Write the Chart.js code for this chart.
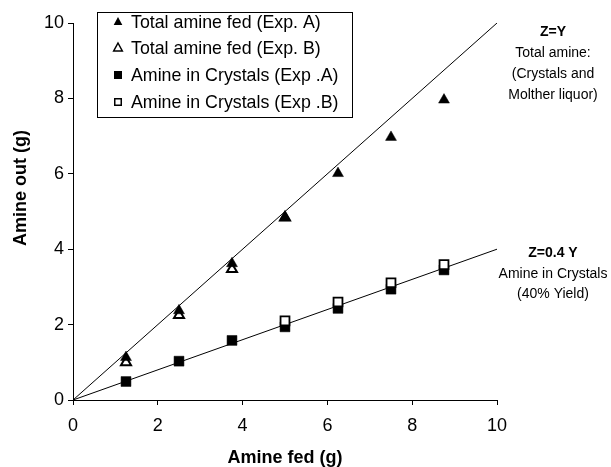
<!DOCTYPE html>
<html>
<head>
<meta charset="utf-8">
<script src="https://cdn.jsdelivr.net/npm/chart.js@4/dist/chart.umd.min.js"></script>
<style>
  html, body { margin: 0; padding: 0; background: #fff; }
  #wrap { width: 611px; height: 467px; position: relative; }
</style>
</head>
<body>
<div id="wrap"><canvas id="c" width="611" height="467"></canvas></div>
<script>
// ---- data ----
const xFed       = [1.25, 2.5, 3.75, 5, 6.25, 7.5, 8.75];
const totalA     = [1.13, 2.37, 3.62, 4.84, 6.01, 6.97, 7.96];
const totalB     = [1.00, 2.25, 3.47, 4.84, null, null, null];
const crystalsA  = [0.49, 1.03, 1.58, 1.94, 2.43, 2.94, 3.45];
const crystalsB  = [null, null, null, 2.10, 2.60, 3.11, 3.59];
const lineX        = [0, 10];
const lineTotal    = [0, 10];   // Z = Y
const lineCrystals = [0, 4];    // Z = 0.4 Y
const xTicks = [0, 2, 4, 6, 8, 10];
const yTicks = [0, 2, 4, 6, 8, 10];
const legendLabels = [
  'Total amine fed (Exp. A)',
  'Total amine fed (Exp. B)',
  'Amine in Crystals (Exp .A)',
  'Amine in Crystals (Exp .B)'
];
const noteTotal    = ['Z=Y', 'Total amine:', '(Crystals and', 'Molther liquor)'];
const noteCrystals = ['Z=0.4 Y', 'Amine in Crystals', '(40% Yield)'];
const xTitle = 'Amine fed (g)';
const yTitle = 'Amine out (g)';

const FONT = '"Liberation Sans", Arial, sans-serif';
const pts = (xs, ys) => xs.map((x, i) => ({x: x, y: ys[i]})).filter(p => p.y !== null);

const overlay = {
  id: 'overlay',
  afterDraw(chart) {
    const ctx = chart.ctx;
    ctx.save();
    // axis titles
    ctx.fillStyle = '#000';
    ctx.font = 'bold 18px ' + FONT;
    ctx.textAlign = 'center';
    ctx.textBaseline = 'middle';
    ctx.fillText(xTitle, (chart.chartArea.left + chart.chartArea.right) / 2, 458);
    ctx.save();
    ctx.translate(21, 188);
    ctx.rotate(-Math.PI / 2);
    ctx.fillText(yTitle, 0, 0);
    ctx.restore();

    // right annotations
    const cx = 553;
    const ty = [32, 53, 74, 95];
    noteTotal.forEach((t, i) => {
      ctx.font = (i === 0 ? 'bold ' : '') + '14px ' + FONT;
      ctx.fillText(t, cx, ty[i]);
    });
    const cy = [253, 274, 294];
    noteCrystals.forEach((t, i) => {
      ctx.font = (i === 0 ? 'bold ' : '') + '14px ' + FONT;
      ctx.fillText(t, cx, cy[i]);
    });

    // legend box
    ctx.fillStyle = '#fff';
    ctx.fillRect(97, 12, 255, 105);
    ctx.strokeStyle = '#000';
    ctx.lineWidth = 1;
    ctx.strokeRect(97.5, 12.5, 255, 105);
    const rows = [22, 48, 75, 102];
    ctx.font = '17.8px ' + FONT;
    ctx.textAlign = 'left';
    ctx.fillStyle = '#000';
    rows.forEach((y, i) => {
      const mx = 118;
      ctx.beginPath();
      if (i < 2) {
        const r = 5;
        ctx.moveTo(mx, y - r);
        ctx.lineTo(mx + r * 0.866, y + r * 0.5 + 0.5);
        ctx.lineTo(mx - r * 0.866, y + r * 0.5 + 0.5);
        ctx.closePath();
        if (i === 0) { ctx.fillStyle = '#000'; ctx.fill(); }
        else { ctx.fillStyle = '#fff'; ctx.fill(); ctx.lineWidth = 1.5; ctx.strokeStyle = '#000'; ctx.stroke(); }
      } else {
        const s = 8;
        if (i === 2) { ctx.fillStyle = '#000'; ctx.fillRect(mx - s/2, y - s/2, s, s); }
        else { ctx.fillStyle = '#fff'; ctx.fillRect(mx - s/2, y - s/2, s, s); ctx.lineWidth = 1.5; ctx.strokeStyle = '#000'; ctx.strokeRect(mx - s/2 + 0.75, y - s/2 + 0.75, s - 1.5, s - 1.5); }
      }
      ctx.fillStyle = '#000';
      ctx.fillText(legendLabels[i], 131, y + 1);
    });
    ctx.restore();
  }
};

new Chart(document.getElementById('c'), {
  type: 'scatter',
  data: {
    datasets: [
      { label: 'Z=Y', type: 'line', data: pts(lineX, lineTotal), borderColor: '#000', borderWidth: 1, pointRadius: 0, fill: false, order: 10 },
      { label: 'Z=0.4Y', type: 'line', data: pts(lineX, lineCrystals), borderColor: '#000', borderWidth: 1, pointRadius: 0, fill: false, order: 10 },
      { label: legendLabels[1], data: pts(xFed, totalB), pointStyle: 'triangle', pointRadius: 5.8, backgroundColor: '#fff', borderColor: '#000', borderWidth: 2, order: 5 },
      { label: legendLabels[0], data: pts(xFed, totalA), pointStyle: 'triangle', pointRadius: 6.3, backgroundColor: '#000', borderColor: '#000', borderWidth: 0.5, order: 4 },
      { label: legendLabels[2], data: pts(xFed, crystalsA), pointStyle: 'rect', pointRadius: 7, backgroundColor: '#000', borderColor: '#000', borderWidth: 0.5, order: 3 },
      { label: legendLabels[3], data: pts(xFed, crystalsB), pointStyle: 'rect', pointRadius: 6.3, backgroundColor: '#fff', borderColor: '#000', borderWidth: 1.8, order: 2 }
    ]
  },
  options: {
    responsive: false,
    animation: false,
    events: [],
    layout: { padding: { left: 0, right: 114, top: 23, bottom: 0 } },
    plugins: { legend: { display: false }, tooltip: { enabled: false } },
    scales: {
      x: {
        type: 'linear', min: 0, max: 10,
        afterFit(s) { s.height = 67; },
        afterBuildTicks(s) { s.ticks = xTicks.map(v => ({value: v})); },
        grid: { drawOnChartArea: false, drawTicks: true, tickLength: 5, color: '#000' },
        border: { display: true, color: '#000', width: 1 },
        ticks: { color: '#000', font: { family: FONT, size: 18 }, padding: 10, maxRotation: 0 }
      },
      y: {
        type: 'linear', min: 0, max: 10,
        afterFit(s) { s.width = 73; },
        afterBuildTicks(s) { s.ticks = yTicks.map(v => ({value: v})); },
        grid: { drawOnChartArea: false, drawTicks: true, tickLength: 5, color: '#000' },
        border: { display: true, color: '#000', width: 1 },
        ticks: { color: '#000', font: { family: FONT, size: 18 }, padding: 4 }
      }
    }
  },
  plugins: [overlay]
});
</script>
</body>
</html>
